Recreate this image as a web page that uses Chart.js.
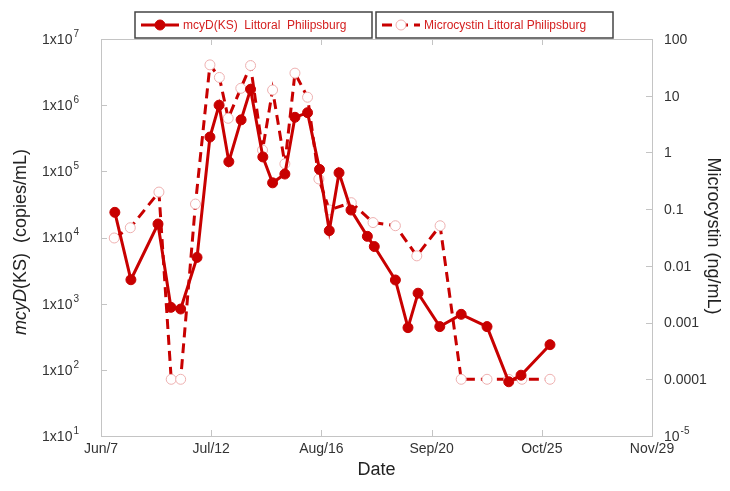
<!DOCTYPE html>
<html>
<head>
<meta charset="utf-8">
<script src="https://cdn.jsdelivr.net/npm/chart.js@4/dist/chart.umd.min.js"></script>
<style>
  html, body { margin: 0; background: #fff; }
  #wrap { width: 730px; height: 491px; }
</style>
</head>
<body>
<div id="wrap"><canvas id="chart"></canvas></div>
<script>
// Days after Jun 7 for each sample.
const MCYD_DAYS = [4.4, 9.5, 18.1, 22.2, 25.3, 30.5, 34.6, 37.5, 40.6, 44.5, 47.5,
  51.4, 54.5, 58.4, 61.6, 65.6, 69.4, 72.5, 75.6, 79.4, 84.6, 86.8, 93.5, 97.5,
  100.7, 107.6, 114.4, 122.6, 129.5, 133.4, 142.6];
const MCYD = [24000, 2300, 16000, 880, 830, 5000, 330000, 1000000, 140000, 600000,
  1740000, 165000, 67000, 91000, 656000, 770000, 107000, 12700, 95000, 26000,
  10400, 7300, 2280, 434, 1440, 450, 690, 450, 66, 83, 240];

const MC_DAYS = [4.2, 9.3, 18.4, 22.3, 25.3, 30.0, 34.6, 37.6, 40.4, 44.4, 47.5,
  51.3, 54.5, 58.4, 61.6, 65.6, 69.2, 72.5, 79.5, 86.4, 93.5, 100.3, 107.7,
  114.4, 122.6, 129.5, 133.7, 142.6];
const MICROCYSTIN = [0.031, 0.047, 0.2, 0.0001, 0.0001, 0.123, 35, 21, 4.0, 13.5,
  34, 1.1, 12.6, 0.63, 25, 9.4, 0.34, 0.097, 0.13, 0.058, 0.051, 0.015, 0.051,
  0.0001, 0.0001, 0.0001, 0.0001, 0.0001];

const X_TICKS = [0, 35, 70, 105, 140, 175];
const X_LABELS = ["Jun/7", "Jul/12", "Aug/16", "Sep/20", "Oct/25", "Nov/29"];
const LEFT_TICKS = [1e1, 1e2, 1e3, 1e4, 1e5, 1e6, 1e7];
const LEFT_LABELS = ["1x10^1", "1x10^2", "1x10^3", "1x10^4", "1x10^5", "1x10^6", "1x10^7"];
const RIGHT_TICKS = [1e-5, 1e-4, 1e-3, 1e-2, 1e-1, 1, 10, 100];
const RIGHT_LABELS = ["10^-5", "0.0001", "0.001", "0.01", "0.1", "1", "10", "100"];

const RED = "#c80000";
const FONT = "'Liberation Sans', Arial, sans-serif";

// draws "base^sup" with a raised superscript; align is 'left' or 'right'
function supText(ctx, str, x, y, align, size) {
  const [base, sup] = str.split("^");
  ctx.font = size + "px " + FONT;
  const bw = ctx.measureText(base).width;
  let sw = 0;
  if (sup) {
    ctx.font = Math.round(size * 0.68) + "px " + FONT;
    sw = ctx.measureText(sup).width + 1;
  }
  const x0 = align === "right" ? x - bw - sw : x;
  ctx.textAlign = "left";
  ctx.textBaseline = "middle";
  ctx.font = size + "px " + FONT;
  ctx.fillText(base, x0, y);
  if (sup) {
    ctx.font = Math.round(size * 0.68) + "px " + FONT;
    ctx.fillText(sup, x0 + bw + 1, y - size * 0.42);
  }
}

const framePlugin = {
  id: "frame",
  afterDraw(chart) {
    const { ctx, chartArea: a, scales } = chart;
    ctx.save();
    ctx.strokeStyle = "#c4c4c4";
    ctx.lineWidth = 1;
    ctx.strokeRect(a.left + 0.5, a.top + 0.5, a.right - a.left, a.bottom - a.top);

    // inward tick marks
    ctx.beginPath();
    X_TICKS.forEach(v => {
      const px = Math.round(scales.x.getPixelForValue(v)) + 0.5;
      ctx.moveTo(px, a.bottom); ctx.lineTo(px, a.bottom - 6);
      ctx.moveTo(px, a.top); ctx.lineTo(px, a.top + 6);
    });
    LEFT_TICKS.forEach(v => {
      const py = Math.round(scales.y.getPixelForValue(v)) + 0.5;
      ctx.moveTo(a.left, py); ctx.lineTo(a.left + 6, py);
    });
    RIGHT_TICKS.forEach(v => {
      const py = Math.round(scales.y1.getPixelForValue(v)) + 0.5;
      ctx.moveTo(a.right, py); ctx.lineTo(a.right - 6, py);
    });
    ctx.stroke();

    ctx.fillStyle = "#333";
    ctx.font = "14px " + FONT;
    ctx.textAlign = "center";
    ctx.textBaseline = "middle";
    X_TICKS.forEach((v, i) => {
      ctx.fillText(X_LABELS[i], scales.x.getPixelForValue(v), a.bottom + 13);
    });
    LEFT_TICKS.forEach((v, i) => {
      supText(ctx, LEFT_LABELS[i], 79, scales.y.getPixelForValue(v) + 1, "right", 14);
    });
    RIGHT_TICKS.forEach((v, i) => {
      supText(ctx, RIGHT_LABELS[i], a.right + 12, scales.y1.getPixelForValue(v) + 1, "left", 14);
    });

    // axis titles
    ctx.fillStyle = "#222";
    ctx.font = "18px " + FONT;
    ctx.textAlign = "center";
    ctx.fillText("Date", (a.left + a.right) / 2 + 0, 470);

    ctx.save();
    ctx.translate(21, 242);
    ctx.rotate(-Math.PI / 2);
    const parts = [["italic ", "mcyD"], ["", "(KS)  (copies/mL)"]];
    let total = 0;
    parts.forEach(p => { ctx.font = p[0] + "18px " + FONT; total += ctx.measureText(p[1]).width; });
    let cx = -total / 2;
    ctx.textAlign = "left";
    parts.forEach(p => {
      ctx.font = p[0] + "18px " + FONT;
      ctx.fillText(p[1], cx, 0);
      cx += ctx.measureText(p[1]).width;
    });
    ctx.restore();

    ctx.save();
    ctx.translate(713, 236);
    ctx.rotate(Math.PI / 2);
    ctx.font = "18px " + FONT;
    ctx.textAlign = "center";
    ctx.fillText("Microcystin (ng/mL)", 0, 0);
    ctx.restore();

    // legend boxes
    const boxes = [
      { x: 135, w: 237, ds: chart.data.datasets[0] },
      { x: 376, w: 237, ds: chart.data.datasets[1] },
    ];
    boxes.forEach(b => {
      ctx.strokeStyle = "#444";
      ctx.lineWidth = 1.5;
      ctx.strokeRect(b.x, 12, b.w, 26);
      const ly = 25;
      ctx.strokeStyle = b.ds.borderColor;
      ctx.lineWidth = 3;
      ctx.setLineDash(b.ds.borderDash || []);
      ctx.beginPath();
      ctx.moveTo(b.x + 6, ly); ctx.lineTo(b.x + 44, ly);
      ctx.stroke();
      ctx.setLineDash([]);
      ctx.beginPath();
      ctx.arc(b.x + 25, ly, 5, 0, Math.PI * 2);
      ctx.fillStyle = b.ds.pointBackgroundColor;
      ctx.fill();
      ctx.lineWidth = 1;
      ctx.strokeStyle = b.ds.pointBorderColor;
      ctx.stroke();
      ctx.fillStyle = "#d42020";
      ctx.font = "12px " + FONT;
      ctx.textAlign = "left";
      ctx.fillText(b.ds.label, b.x + 48, ly + 1);
    });
    ctx.restore();
  },
};

new Chart(document.getElementById("chart"), {
  type: "line",
  data: {
    datasets: [
      {
        label: "mcyD(KS)  Littoral  Philipsburg",
        data: MCYD_DAYS.map((d, i) => ({ x: d, y: MCYD[i] })),
        yAxisID: "y",
        borderColor: RED,
        borderWidth: 3,
        pointRadius: 5,
        pointBackgroundColor: RED,
        pointBorderColor: RED,
        pointBorderWidth: 1,
        tension: 0,
      },
      {
        label: "Microcystin Littoral Philipsburg",
        data: MC_DAYS.map((d, i) => ({ x: d, y: MICROCYSTIN[i] })),
        yAxisID: "y1",
        borderColor: RED,
        borderWidth: 3,
        borderDash: [10, 6],
        pointRadius: 5,
        pointBackgroundColor: "#ffffff",
        pointBorderColor: "#eeb0b0",
        pointBorderWidth: 1,
        tension: 0,
      },
    ],
  },
  options: {
    responsive: true,
    maintainAspectRatio: false,
    animation: false,
    layout: { padding: { left: 101, right: 78, top: 39, bottom: 55 } },
    scales: {
      x: { type: "linear", min: 0, max: 175, display: false },
      y: { type: "logarithmic", min: 10, max: 1e7, display: false },
      y1: { type: "logarithmic", min: 1e-5, max: 100, display: false },
    },
    plugins: { legend: { display: false }, tooltip: { enabled: false } },
  },
  plugins: [framePlugin],
});
</script>
</body>
</html>
